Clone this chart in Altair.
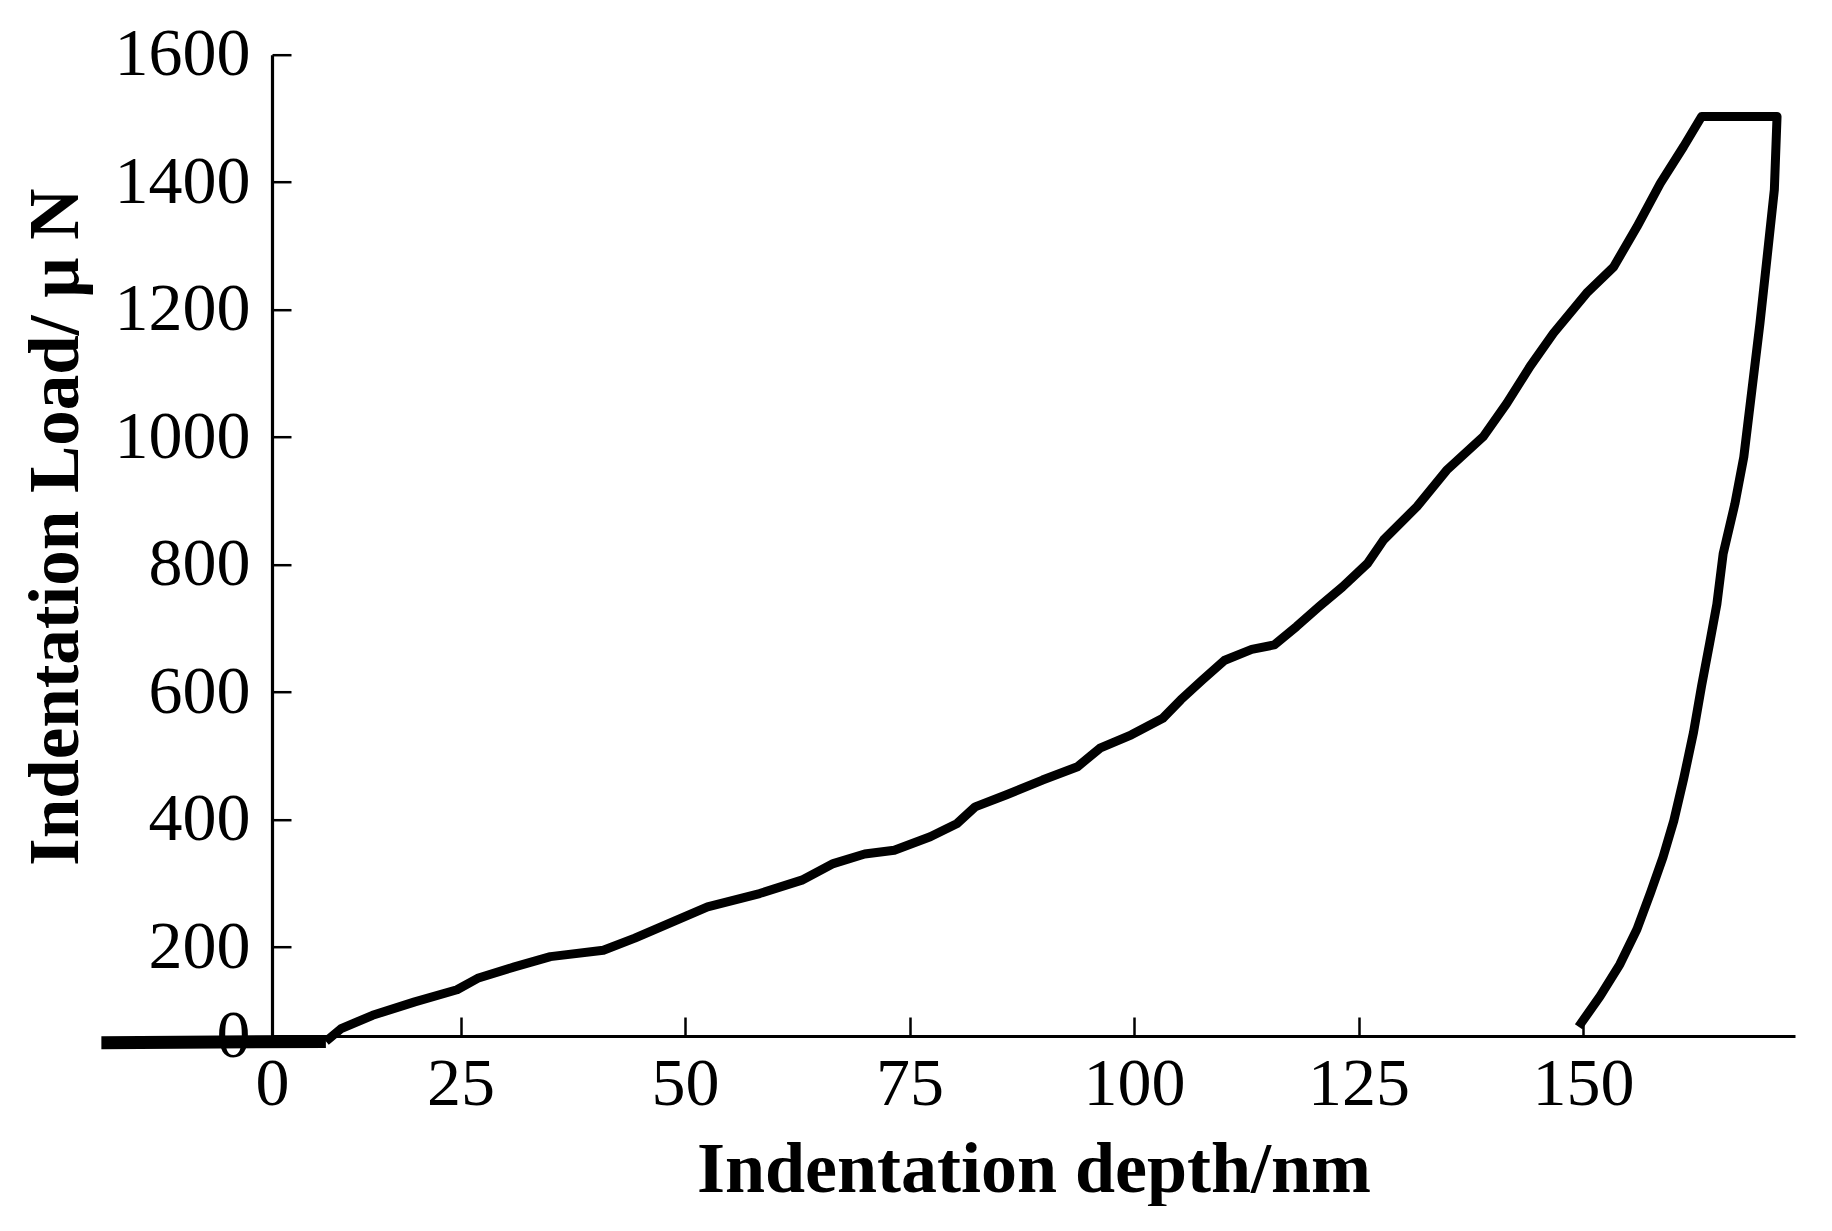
import altair as alt
import pandas as pd

# Approach segment before contact (depth in nm, load in uN)
approach_depth = [-15.0, 10.0]
approach_value = [50, 52]
# Loading branch
load_depth = [10.0, 11.7, 15.2, 19.9, 24.6, 26.9, 31.0, 35.0, 40.9, 44.4, 49.0,
              52.5, 58.3, 63.0, 66.5, 70.0, 73.3, 77.3, 80.3, 82.3, 85.8, 89.8, 93.7,
              96.2, 99.7, 103.2, 105.2, 107.6, 110.1, 113.1, 115.6, 118.1, 120.6, 123.2,
              126.0, 127.8, 131.5, 134.8, 138.9, 141.5, 144.1, 146.7, 150.4, 153.4, 156.0,
              158.6, 161.2, 163.2]
load_value = [52, 72, 93, 114, 133, 151, 169, 185, 195, 214, 242,
              263, 284, 305, 331, 346, 352, 373, 394, 420, 439, 462, 483,
              512, 533, 559, 588, 619, 650, 667, 674, 703, 734, 765,
              802, 839, 891, 948, 1001, 1053, 1111, 1163, 1226, 1267, 1330,
              1398, 1456, 1503]
# Hold segment
hold_depth = [171.6]
hold_value = [1503]
# Unloading branch
unload_depth = [171.3, 170.5, 169.7, 168.8, 167.9, 166.9, 165.6, 164.9, 164.1, 163.2,
                162.3, 161.2, 160.1, 158.9, 157.5, 156.0, 154.1, 151.9, 149.5]
unload_value = [1388, 1283, 1179, 1074, 969, 895, 817, 738, 677, 610,
                537, 464, 398, 341, 285, 228, 173, 123, 75]

x_ticks = [25, 50, 75, 100, 125, 150]
y_ticks = [200, 400, 600, 800, 1000, 1200, 1400, 1600]
x_origin = 4.0      # where the "0" label sits on the depth axis
y_origin = 60.5     # where the "0" label sits on the load axis
x_max = 173.6
y_max = 1600

indent_depth = load_depth + hold_depth + unload_depth
indent_value = load_value + hold_value + unload_value
rows = []
for i, (d, v) in enumerate(zip(approach_depth, approach_value)):
    rows.append({"depth": d, "load": v, "order": i, "segment": "approach"})
for i, (d, v) in enumerate(zip(indent_depth, indent_value)):
    rows.append({"depth": d, "load": v, "order": i, "segment": "indent"})
df = pd.DataFrame(rows)

FONT = "Liberation Serif"

xscale = alt.Scale(domain=[x_origin, x_max], nice=False, zero=False)
yscale = alt.Scale(domain=[y_origin, y_max], nice=False, zero=False)

main = alt.Chart(df).mark_line(color="black", clip=False, strokeJoin="round").encode(
    x=alt.X("depth:Q", scale=xscale,
            axis=alt.Axis(values=[x_origin] + x_ticks, format="d",
                          labelExpr="datum.value < 10 ? '0' : datum.label",
                          ticks=False, tickSize=0, labelPadding=14,
                          labelFont=FONT, labelFontSize=68, labelColor="black",
                          labelFlush=False, labelOverlap=False,
                          domainColor="black", domainWidth=3.2, grid=False,
                          title="Indentation depth/nm", titleFont=FONT,
                          titleFontSize=72, titleFontWeight="bold", titleColor="black",
                          titleBaseline="alphabetic", titleY=155)),
    y=alt.Y("load:Q", scale=yscale,
            axis=alt.Axis(values=[y_origin] + y_ticks, format="d",
                          labelExpr="datum.value < 100 ? '0' : datum.label",
                          ticks=False, tickSize=0, labelPadding=22,
                          labelFont=FONT, labelFontSize=68, labelColor="black",
                          labelFlush=False, labelOverlap=False,
                          domainColor="black", domainWidth=3.2, grid=False,
                          title="Indentation Load/ μ N", titleFont=FONT,
                          titleFontSize=71, titleFontWeight="bold", titleColor="black",
                          titleAngle=270, titleAlign="center", titleBaseline="alphabetic",
                          titleX=-195, titleY=472)),
    size=alt.Size("segment:N", scale=alt.Scale(domain=["approach", "indent"], range=[13, 9]),
                  legend=None),
    order="order:Q",
)

ticks_layer = alt.Chart(df).mark_point(opacity=0).encode(
    x=alt.X("depth:Q", scale=xscale,
            axis=alt.Axis(orient="bottom", values=x_ticks, offset=-19, tickSize=19,
                          tickWidth=2.5, tickColor="black", domain=False, labels=False,
                          grid=False, title=None)),
    y=alt.Y("load:Q", scale=yscale,
            axis=alt.Axis(orient="left", values=y_ticks, offset=-19, tickSize=19,
                          tickWidth=2.5, tickColor="black", domain=False, labels=False,
                          grid=False, title=None)),
)

chart = alt.layer(main, ticks_layer).resolve_axis(
    x="independent", y="independent"
).properties(
    width=1523, height=981.3,
    padding={"left": 264, "top": 46.7, "right": 20, "bottom": 170},
    autosize="none",
    background="white",
).configure_view(stroke=None)

chart.save("out.html", embed_options={"renderer": "svg", "actions": False})
